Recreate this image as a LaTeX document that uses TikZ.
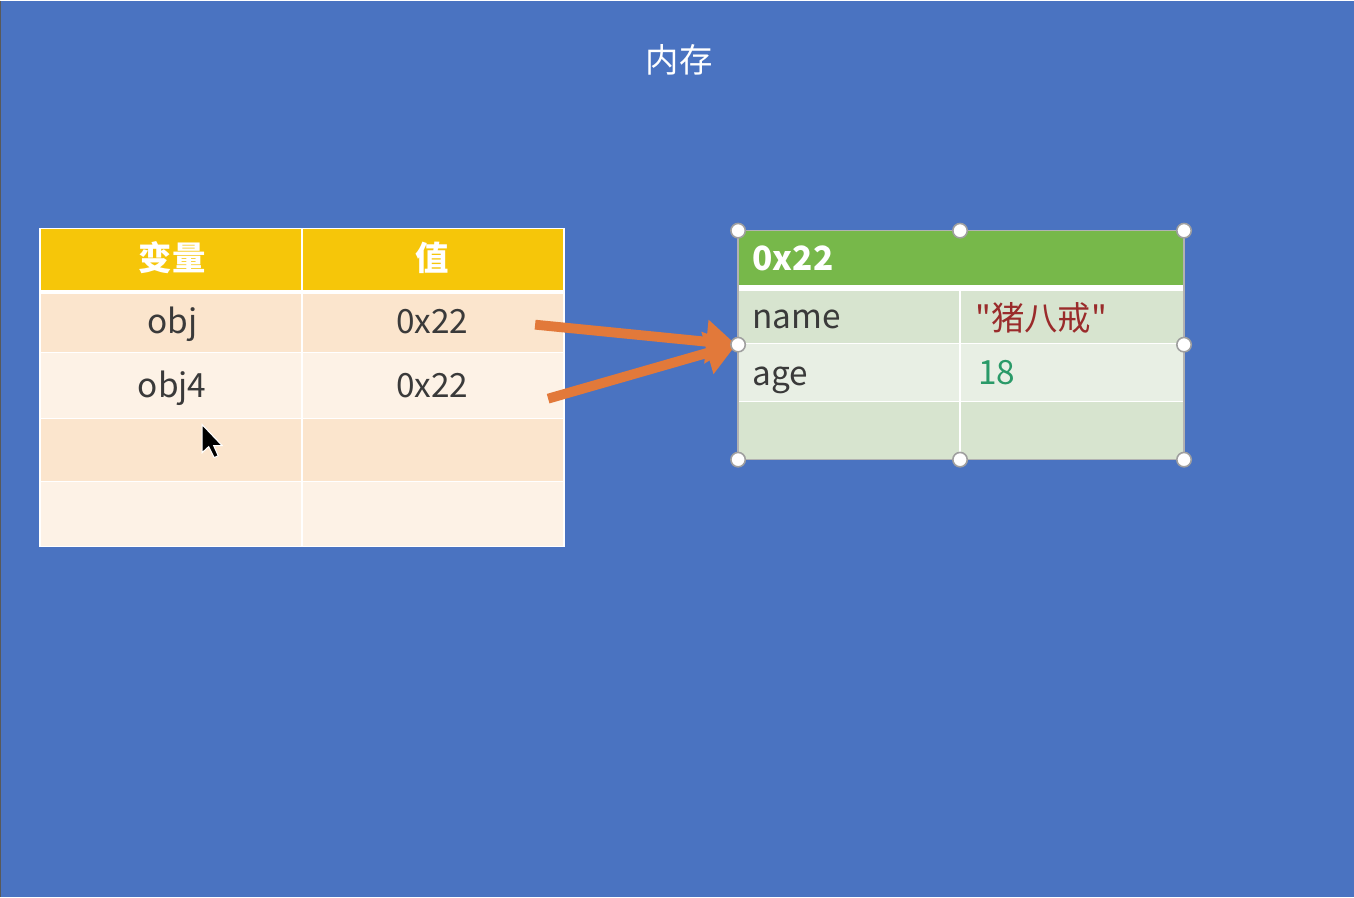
\documentclass[tikz,border=0pt]{standalone}
\usepackage{fontspec}
\setmainfont{Noto Sans CJK SC}
\setmonofont{Noto Sans CJK SC}
\usetikzlibrary{arrows.meta}

\definecolor{bg}{HTML}{4A73C1}
\definecolor{yhead}{HTML}{F6C609}
\definecolor{peach}{HTML}{FBE5CD}
\definecolor{cream}{HTML}{FDF2E6}
\definecolor{ghead}{HTML}{77B84A}
\definecolor{gmid}{HTML}{D7E4CF}
\definecolor{glight}{HTML}{E8EFE4}
\definecolor{arrorange}{HTML}{E2793A}
\definecolor{txtgray}{HTML}{3A3A3A}
\definecolor{strred}{HTML}{9A2B2B}
\definecolor{numgreen}{HTML}{2A9A68}

\begin{document}
\begin{tikzpicture}[x=0.02cm, y=-0.02cm,
    txt/.style = {font=\fontsize{19}{22}\selectfont, text=txtgray, inner sep=0pt},
    head/.style = {font=\fontsize{19}{22}\selectfont\bfseries, text=white, inner sep=0pt},
    handle/.style = {circle, fill=white, draw=gray!75, line width=0.9pt, minimum size=8.2pt, inner sep=0pt},
    ref/.style = {draw=arrorange, line width=5.6pt, -{Triangle[length=17pt, width=24pt]}}]
    \fill[bg] (0,0) rectangle (1354,896);
    \draw[gray!70!black, line width=0.8pt] (0.5,0) -- (0.5,896);

    \node[txt, text=white, anchor=base] (title) at (679,72) {内存};

    % variables table
    \fill[yhead] (40,228) rectangle (564,289);
    \fill[white] (40,289) rectangle (564,293);
    \fill[peach] (40,293) rectangle (564,352);
    \fill[cream] (40,352) rectangle (564,418);
    \fill[peach] (40,418) rectangle (564,481);
    \fill[cream] (40,481) rectangle (564,546);
    \draw[white, line width=0.6pt] (40,352) -- (564,352);
    \draw[white, line width=0.6pt] (40,418) -- (564,418);
    \draw[white, line width=0.6pt] (40,481) -- (564,481);
    \draw[white, line width=1pt] (302,228) -- (302,546);
    \draw[white, line width=0.8pt] (40,228) rectangle (564,546);

    \node[head, anchor=base] (hvar) at (172,270) {变量};
    \node[head, anchor=base] (hval) at (432,270) {值};
    \node[txt, anchor=base] (var1) at (172,333) {obj};
    \node[txt, anchor=base] (val1) at (432,333) {0x22};
    \node[txt, anchor=base] (var2) at (172,397) {obj4};
    \node[txt, anchor=base] (val2) at (432,397) {0x22};

    % object in memory
    \fill[ghead] (738,230) rectangle (1184,284);
    \fill[white] (738,284) rectangle (1184,290);
    \fill[gmid] (738,290) rectangle (1184,343);
    \fill[glight] (738,343) rectangle (1184,401);
    \fill[gmid] (738,401) rectangle (1184,459);
    \draw[white, line width=0.8pt] (738,343) -- (1184,343);
    \draw[white, line width=0.8pt] (738,401) -- (1184,401);
    \draw[white, line width=1pt] (960,290) -- (960,459);
    \draw[gray!60, line width=0.8pt] (738,230) rectangle (1184,459);

    \node[head, anchor=base west] (mhead) at (752,270) {0x22};
    \node[txt, anchor=base west] (k1) at (752,328) {name};
    \node[txt, anchor=base west, text=strred] (v1) at (975,330) {\ttfamily"猪八戒"};
    \node[txt, anchor=base west] (k2) at (752,385) {age};
    \node[txt, anchor=base west, text=numgreen] (v2) at (978,384) {18};

    % references
    \coordinate (s1) at (535,324);
    \coordinate (s2) at (548,398);
    \coordinate (memw) at (736,344);
    \draw[ref] (s1) -- (memw);
    \draw[ref] (s2) -- (memw);

    % selection handles
    \node[handle] (h1) at (738,230) {};
    \node[handle] (h2) at (960,230) {};
    \node[handle] (h3) at (1184,230) {};
    \node[handle] (h4) at (738,344) {};
    \node[handle] (h5) at (1184,344) {};
    \node[handle] (h6) at (738,459) {};
    \node[handle] (h7) at (960,459) {};
    \node[handle] (h8) at (1184,459) {};

    % mouse pointer
    \filldraw[fill=black, draw=white, line width=0.6pt] (202,424) -- ++(0,28) -- ++(6.5,-6) -- ++(5.5,11) -- ++(4,-2) -- ++(-4.5,-10) -- ++(8.5,0) -- cycle;
\end{tikzpicture}
\end{document}
